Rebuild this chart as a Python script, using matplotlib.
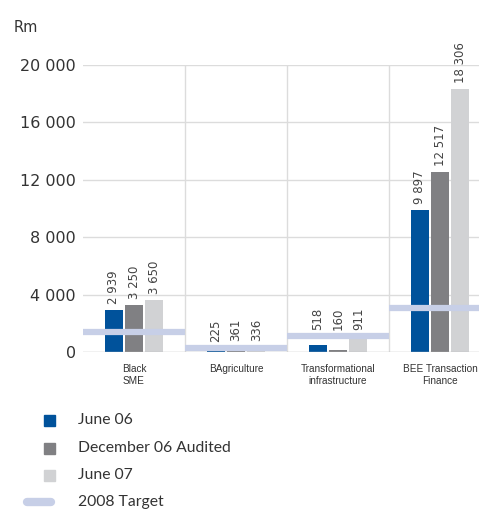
import numpy as np
import matplotlib
matplotlib.use("Agg")
import matplotlib.pyplot as plt
from matplotlib.patches import Rectangle
from matplotlib.lines import Line2D

categories = ["Black\nSME", "BAgriculture", "Transformational\ninfrastructure", "BEE Transaction\nFinance"]
june06 = [2939, 225, 518, 9897]
dec06 = [3250, 361, 160, 12517]
june07 = [3650, 336, 911, 18306]
target2008 = [1400, 300, 1100, 3100]
yticks = [0, 4000, 8000, 12000, 16000, 20000]

colors = ["#00529b", "#808083", "#d1d2d4"]
target_color = "#c7cfe7"
grid_color = "#dcdcdc"
text_color = "#333333"

def fmt(v):
    return f"{v:,}".replace(",", " ")

W, H = 479, 511
fig = plt.figure(figsize=(W / 100, H / 100), dpi=100)
ax = fig.add_axes([83 / W, 1 - 352 / H, 408 / W, (352 - 65) / H])

x = np.arange(len(categories))
bw = 0.176
series = [june06, dec06, june07]
for i, vals in enumerate(series):
    pos = x + (i - 1) * 0.2
    ax.bar(pos, vals, width=bw, color=colors[i], zorder=3)
    # labels sit above the bar, or above the target band when that is higher
    for p, v, t in zip(pos, vals, target2008):
        ax.text(p, max(v, t) + 420, fmt(v), rotation=90, ha="center", va="bottom",
                fontsize=8.5, color="#444444", clip_on=False)

# 2008 target as a band across each category
for xi, t in zip(x, target2008):
    ax.plot([xi - 0.5, xi + 0.5], [t, t], color=target_color, lw=4.5,
            solid_capstyle="butt", zorder=4)

ax.set_xlim(-0.5, 3.5)
ax.set_ylim(0, 20000)
ax.set_yticks(yticks)
ax.set_yticklabels([fmt(v) for v in yticks], fontsize=11.5, color=text_color)
ax.set_xticks(x)
ax.set_xticklabels(categories, fontsize=7.2, color=text_color,
                   family=["Liberation Sans", "DejaVu Sans"], linespacing=1.2)
ax.tick_params(axis="both", length=0)
ax.tick_params(axis="y", pad=5)
ax.tick_params(axis="x", pad=9)
# last category label sits a little left of the bar group centre
ax.get_xticklabels()[-1].set_x(2.98)

for s in ax.spines.values():
    s.set_visible(False)
ax.axhline(0, color="#bbbbbb", lw=1, zorder=5)
for yv in yticks[1:]:
    ax.axhline(yv, color=grid_color, lw=1, zorder=1)
for xb in [0.5, 1.5, 2.5]:
    ax.plot([xb, xb], [0, 20000], color=grid_color, lw=1, zorder=1)

fig.text(14 / W, 1 - 27 / H, "Rm", fontsize=10.5, color=text_color, va="center")

# legend drawn by hand to match the layout
labels = ["June 06", "December 06 Audited", "June 07", "2008 Target"]
rows = [420, 448, 475, 502]
for i in range(3):
    fig.add_artist(Rectangle((44 / W, 1 - (rows[i] + 5.5) / H), 11 / W, 11 / H,
                             transform=fig.transFigure, color=colors[i]))
fig.add_artist(Line2D([27 / W, 51 / W], [1 - rows[3] / H] * 2, transform=fig.transFigure,
                      color=target_color, lw=6, solid_capstyle="round"))
for lab, r in zip(labels, rows):
    fig.text(78 / W, 1 - r / H, lab, fontsize=11.3, color=text_color, va="center",
             family=["Lato", "DejaVu Sans"])

fig.savefig("out.png", dpi=100)
